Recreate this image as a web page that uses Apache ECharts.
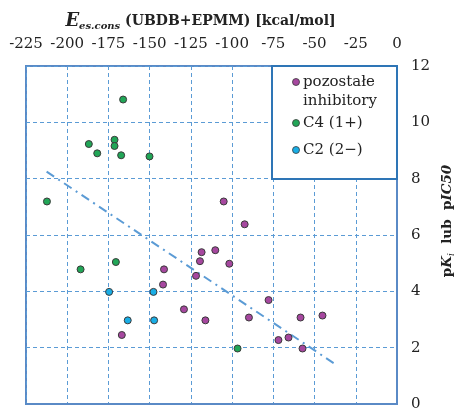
<!DOCTYPE html>
<html>
<head>
<meta charset="utf-8">
<script src="https://cdn.jsdelivr.net/npm/echarts@6/dist/echarts.min.js"></script>
<style>
  html, body { margin: 0; padding: 0; background: #fff; }
  #chart { width: 456px; height: 410px; }
</style>
</head>
<body>
<div id="chart"></div>
<script>
// punkty: E_es.cons [kcal/mol] vs pKi / pIC50
const otherX = [-105.1, -92.4, -118.5, -110.2, -119.5, -101.7, -141.3, -121.9, -141.9, -77.9,
                -129.2, -89.8, -58.5, -45.2, -116.2, -166.9, -71.9, -65.8, -57.3]
const otherY = [7.19, 6.38, 5.39, 5.46, 5.07, 4.98, 4.78, 4.55, 4.24, 3.69,
                3.36, 3.07, 3.07, 3.14, 2.97, 2.45, 2.27, 2.36, 1.97]

const c4X = [-166.1, -186.9, -181.8, -171.3, -171.3, -167.3, -150.1, -212.3, -191.9, -170.5, -96.7]
const c4Y = [10.81, 9.23, 8.90, 9.38, 9.16, 8.83, 8.79, 7.19, 4.78, 5.04, 1.97]

const c2X = [-174.6, -147.7, -163.3, -147.3]
const c2Y = [3.98, 3.98, 2.97, 2.97]

// linia trendu (koniec i poczatek)
const trendX = [-212.5, -36.6]
const trendY = [8.25, 1.38]

const seriesNames = ['pozostałe', 'inhibitory', 'C4 (1+)', 'C2 (2−)']
const xTicks = { min: -225, max: 0, step: 25 }
const yTicks = { min: 0, max: 12, step: 2 }

const colors = { other: '#a6479f', c4: '#21a657', c2: '#19aee6' }
const FONT = 'DejaVu Serif'
const BLUE = '#5b9bd5'

function pairs(xs, ys) {
  return xs.map((x, i) => [x, ys[i]])
}

function scatter(name, xs, ys, color) {
  return {
    name: name,
    type: 'scatter',
    symbol: 'circle',
    symbolSize: 7,
    z: 3,
    itemStyle: { color: color, borderColor: '#3a3a3a', borderWidth: 1, opacity: 1 },
    data: pairs(xs, ys)
  }
}

let chart = echarts.init(document.getElementById('chart'))
chart.setOption({
  animation: false,
  textStyle: { fontFamily: FONT, color: '#222' },
  grid: {
    left: 26, right: 59, top: 66, bottom: 6,
    outerBoundsMode: 'none',
    containLabel: false,
    show: true,
    borderColor: '#5a8ac6',
    borderWidth: 2,
    backgroundColor: '#fff'
  },
  xAxis: {
    type: 'value',
    position: 'top',
    min: xTicks.min, max: xTicks.max, interval: xTicks.step,
    axisLine: { show: true, lineStyle: { color: '#5a8ac6', width: 2 } },
    axisTick: { show: false },
    axisLabel: { fontFamily: FONT, fontSize: 15, color: '#222', margin: 14 },
    splitLine: { show: true, lineStyle: { color: BLUE, type: [4, 3], width: 1 } },
    name: '{e|E}{sub|es.cons}{b| (UBDB+EPMM) [kcal/mol]}',
    nameLocation: 'middle',
    nameGap: 35,
    nameTextStyle: {
      padding: [0, 22, 0, 0],
      rich: {
        e: { fontFamily: FONT, fontSize: 18, fontWeight: 'bold', fontStyle: 'italic', color: '#222', lineHeight: 20 },
        sub: { fontFamily: FONT, fontSize: 10, fontWeight: 'bold', fontStyle: 'italic', color: '#222', lineHeight: 10, verticalAlign: 'bottom' },
        b: { fontFamily: FONT, fontSize: 14, fontWeight: 'bold', color: '#222', lineHeight: 20 }
      }
    }
  },
  yAxis: {
    type: 'value',
    position: 'right',
    min: yTicks.min, max: yTicks.max, interval: yTicks.step,
    axisLine: { show: true, lineStyle: { color: '#5a8ac6', width: 2 } },
    axisTick: { show: false },
    axisLabel: { fontFamily: FONT, fontSize: 15, color: '#222', margin: 14 },
    splitLine: { show: true, lineStyle: { color: BLUE, type: [4, 3], width: 1 } },
    name: '{b|p}{bi|K}{sub|i}{b|  lub  p}{bi|IC50}',
    nameLocation: 'middle',
    nameRotate: 90,
    nameGap: 34,
    nameTextStyle: {
      padding: [0, 0, 0, 28],
      rich: {
        b: { fontFamily: FONT, fontSize: 13.5, fontWeight: 'bold', color: '#222', lineHeight: 16 },
        bi: { fontFamily: FONT, fontSize: 13.5, fontWeight: 'bold', fontStyle: 'italic', color: '#222', lineHeight: 16 },
        sub: { fontFamily: FONT, fontSize: 9, fontStyle: 'italic', color: '#222', lineHeight: 9, verticalAlign: 'bottom' }
      }
    }
  },
  // legenda w ramce (pierwszy wpis w dwoch liniach)
  graphic: [
    { type: 'rect', z: 20, shape: { x: 272, y: 66, width: 125, height: 113 },
      style: { fill: '#fff', stroke: '#2e75b6', lineWidth: 2 } },
    { type: 'circle', z: 21, shape: { cx: 296, cy: 82, r: 3.5 },
      style: { fill: colors.other, stroke: '#3a3a3a', lineWidth: 0.8 } },
    { type: 'circle', z: 21, shape: { cx: 296, cy: 123, r: 3.5 },
      style: { fill: colors.c4, stroke: '#3a3a3a', lineWidth: 0.8 } },
    { type: 'circle', z: 21, shape: { cx: 296, cy: 150, r: 3.5 },
      style: { fill: colors.c2, stroke: '#3a3a3a', lineWidth: 0.8 } },
    { type: 'text', z: 21, x: 303, y: 82,
      style: { text: seriesNames[0], font: '15px "DejaVu Serif"', fill: '#222', verticalAlign: 'middle' } },
    { type: 'text', z: 21, x: 303, y: 101,
      style: { text: seriesNames[1], font: '15px "DejaVu Serif"', fill: '#222', verticalAlign: 'middle' } },
    { type: 'text', z: 21, x: 303, y: 123,
      style: { text: seriesNames[2], font: '15px "DejaVu Serif"', fill: '#222', verticalAlign: 'middle' } },
    { type: 'text', z: 21, x: 303, y: 150,
      style: { text: seriesNames[3], font: '15px "DejaVu Serif"', fill: '#222', verticalAlign: 'middle' } }
  ],
  series: [
    {
      name: 'trend',
      type: 'line',
      symbol: 'none',
      z: 2,
      lineStyle: { color: BLUE, width: 2, type: [9, 5, 2, 5] },
      data: pairs(trendX, trendY)
    },
    scatter(seriesNames[0] + ' ' + seriesNames[1], otherX, otherY, colors.other),
    scatter(seriesNames[2], c4X, c4Y, colors.c4),
    scatter(seriesNames[3], c2X, c2Y, colors.c2)
  ]
})
</script>
</body>
</html>
